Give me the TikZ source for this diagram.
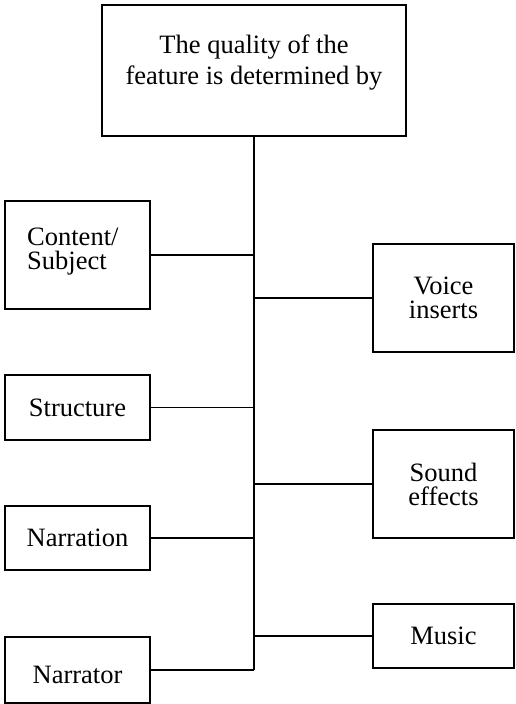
\documentclass[tikz,border=0pt]{standalone}
\usepackage{fontspec}
\setmainfont{Liberation Serif}
\begin{document}
\begin{tikzpicture}[x=1pt,y=-1pt,
  box/.style={draw,line width=1.4pt,rectangle,inner sep=0pt,align=center},
  conn/.style={line width=1.4pt},
  trunkline/.style={line width=2pt},
  big/.style={font=\fontsize{26.5}{31}\selectfont},
  small/.style={font=\fontsize{26.5}{24}\selectfont},
  txt/.style={inner sep=0pt}]
\useasboundingbox (0,0) rectangle (515,704);
\node[box,minimum width=304pt,minimum height=131pt] (top) at (254,70.5) {};
\node[big,txt,align=center] (toptext) at (254,63) {The quality of the\\feature is determined by};
% left
\node[box,minimum width=145pt,minimum height=108pt] (cs) at (77.5,255) {};
\node[small,txt,align=left,anchor=west] (cstext) at (27,252) {Content/\\Subject};
\node[box,small,minimum width=145pt,minimum height=65pt] (st) at (77.5,407.5) {Structure};
\node[box,small,minimum width=145pt,minimum height=64pt] (na) at (77.5,538) {Narration};
\node[box,minimum width=145pt,minimum height=66pt] (nr) at (77.5,670) {};
\node[small,txt] (nrtext) at (77.5,675) {Narrator};
% right
\node[box,small,minimum width=141pt,minimum height=108pt] (vi) at (443.5,298) {Voice\\inserts};
\node[box,small,minimum width=141pt,minimum height=108pt] (se) at (443.5,484) {Sound\\effects};
\node[box,small,minimum width=141pt,minimum height=64pt] (mu) at (443.5,636) {Music};
\coordinate (bot) at (254,670);
\draw[trunkline] (top.south) -- (bot);
\draw[conn] (cs.east) -- (cs.east -| top.south);
\draw[conn] (st.east) -- (st.east -| top.south);
\draw[conn] (na.east) -- (na.east -| top.south);
\draw[conn] (nr.east) -- (bot);
\draw[conn] (vi.west) -- (vi.west -| top.south);
\draw[conn] (se.west) -- (se.west -| top.south);
\draw[conn] (mu.west) -- (mu.west -| top.south);
\end{tikzpicture}
\end{document}
